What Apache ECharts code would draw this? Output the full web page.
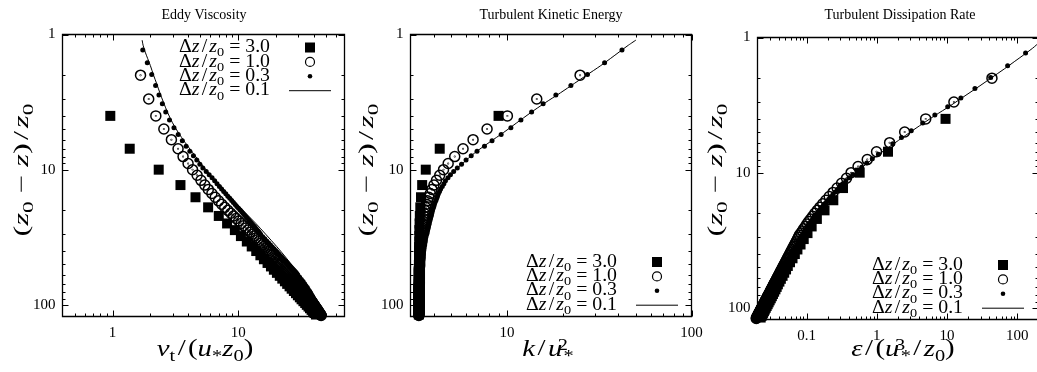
<!DOCTYPE html>
<html>
<head>
<meta charset="utf-8">
<title>Eddy viscosity, turbulent kinetic energy and dissipation profiles</title>
<script src="https://cdn.jsdelivr.net/npm/echarts@6.0.0/dist/echarts.min.js"></script>
<style>
html, body { margin: 0; padding: 0; background: #fff; }
#chart { width: 1037px; height: 372px; }
</style>
</head>
<body>
<div id="chart"></div>
<script>
// ---------------------------------------------------------------------------
// Normalised depth (z0 - z)/z0 of the plotted nodes for each vertical resolution
// ---------------------------------------------------------------------------
const depth30 = [4,7,10,13,16,19,22,25,28,31,34,37,40,43,46,49,52,55,58,61,64,67,70,73,76,79,82,85,88,91,94,97,100,103,106,109,112,115,118];
const depth10 = [2,3,4,5,6,7,8,9,10,11,12,13,14,15,16,17,18,19,20,21,22,23,24,25,26,27,28,29,30,
  31,32,33,34,35,36,37,38,39,40,41,42,43,44,45,46,47,48,49,50,51,52,53,54,55,56,57,58,59,60,
  61,62,63,64,65,66,67,68,69,70,71,72,73,74,75,76,77,78,79,80,81,82,83,84,85,86,87,88,89,90,
  91,92,93,94,95,96,97,98,99,100,101,102,103,104,105,106,107,108,109,110,111,112,113,114,115,116,117,118,119,120];
const depth03 = [1.3,1.62,1.98,2.38,2.8,3.25,3.75,4.3,4.9,
  5.5,6.1,6.7,7.3,7.9,8.5,9.1,9.7,10.3,10.9,11.5,12.1,12.7,13.3,13.9,14.5,15.1,15.7,16.3,16.9,17.5,
  18.1,18.7,19.3,19.9,20.5,21.1,21.7,22.3,22.9,23.5,24.1,24.7,25.3,25.9,26.5,27.1,27.7,28.3,28.9,29.5,30.1,
  31.3,32.5,33.7,34.9,36.1,37.3,38.5,39.7,40.9,42.1,43.3,44.5,45.7,46.9,48.1,49.3,50.5,51.7,52.9,54.1,55.3,56.5,57.7,58.9,60.1,
  62.5,64.9,67.3,69.7,72.1,74.5,76.9,79.3,81.7,84.1,86.5,88.9,91.3,93.7,96.1,98.5,100.9,103.3,105.7,108.1,110.5,112.9,115.3,117.7];
const depth01 = [1.1,1.2,1.35,1.5,1.7,2,2.3,2.7,3.2,3.8,4.5,5.3,6.3,7.5,9,11,13,16,20,25,30,37,45,55,67,80,95,110,120];

// Resolution labels (Δz/z0) in legend order
const resolutions = ['3.0', '1.0', '0.3', '0.1'];

// ---------------------------------------------------------------------------
// Eddy viscosity  nu_t/(u* z0)
// ---------------------------------------------------------------------------
const nuSquare = [0.96,1.37,2.33,3.47,4.57,5.76,7.0,8.15,9.4,10.5,11.7,12.8,13.9,15.0,16.0,17.1,18.2,19.2,20.3,21.4,22.4,23.5,24.5,25.6,26.6,27.7,28.8,29.8,30.9,31.9,33.0,34.1,35.1,36.2,37.2,38.3,39.4,40.4,41.5];
const nuCircle = [1.67,1.94,2.21,2.56,2.94,3.32,3.64,3.99,4.33,4.71,5.05,
  5.42,5.78,6.17,6.56,6.97,7.38,7.81,8.26,8.72,9.17,9.61,10.08,10.55,11.02,11.49,11.96,12.43,12.9,
  13.34,13.79,14.23,14.67,15.12,15.56,16.0,16.44,16.88,17.32,
  17.75,18.18,18.61,19.05,19.48,19.91,20.34,20.77,21.2,21.6,
  22.02,22.44,22.86,23.28,23.71,24.12,24.54,24.96,25.38,25.8,
  26.2,26.6,27.0,27.39,27.79,28.18,28.58,28.97,29.36,29.75,
  30.13,30.5,30.87,31.24,31.61,31.98,32.35,32.71,33.08,33.44,
  33.79,34.14,34.49,34.84,35.19,35.54,35.88,36.22,36.56,36.9,
  37.22,37.54,37.85,38.16,38.48,38.78,39.09,39.4,39.7,40.0,
  40.3,40.6,40.89,41.18,41.48,41.76,42.05,42.34,42.62,42.9,
  43.18,43.46,43.73,44.0,44.28,44.54,44.81,45.08,45.34,45.6];
const nuDot = [1.74,1.89,2.05,2.2,2.34,2.49,2.65,2.84,3.08,
  3.33,3.59,3.85,4.12,4.4,4.68,4.95,5.23,5.56,5.87,6.19,6.49,6.78,7.08,7.37,7.66,7.96,8.26,8.56,8.86,9.15,
  9.45,9.74,10.04,10.35,10.64,10.93,11.22,11.51,11.79,12.08,12.36,12.65,12.93,13.21,13.49,13.77,14.04,14.32,14.59,14.81,15.05,
  15.65,16.25,16.85,17.45,18.05,18.65,19.25,19.85,20.45,21.05,21.65,22.25,22.85,23.45,24.05,24.65,25.25,25.85,26.45,27.05,27.65,28.25,28.8,29.3,29.8,
  30.8,31.8,32.8,33.7,34.5,35.4,36.1,37.0,37.7,38.3,39.0,39.6,40.3,40.9,41.4,42.0,42.5,43.0,43.4,43.9,44.3,44.7,45.2,45.7];
const nuLine = [1.72,1.75,1.82,1.9,2.0,2.12,2.24,2.38,2.55,2.75,3.0,3.33,3.78,4.35,5.05,6.05,7.1,8.7,10.9,13.8,16.5,20.2,24.1,28.5,33.3,38,42.5,46,47.5];

// ---------------------------------------------------------------------------
// Turbulent kinetic energy  k/u*^2
// ---------------------------------------------------------------------------
const kSquare = [9.0,4.32,3.63,3.47,3.42,3.39,3.37,3.36,3.35,3.35,3.35,3.34,3.34,
  3.34,3.34,3.34,3.34,3.34,3.34,3.34,3.34,
  3.33,3.33,3.33,3.33,3.33,3.33,3.33,3.33,3.33,3.33,3.33,3.33,3.33,3.33,3.33,3.33,3.33,3.33];
const kCircle = [24.9,14.5,10.05,7.8,6.55,5.78,5.21,4.8,4.53,4.32,4.15,4.02,3.92,3.84,3.77,3.71,3.66,3.62,3.59,3.56,
  3.54,3.52,3.5,3.48,3.47,3.46,3.45,3.44,3.43,3.42,3.42,3.41,3.41,3.4,3.4,3.39,3.39,3.39,3.38,3.38,
  3.38,3.37,3.37,3.37,3.37,3.36,3.36,3.36,3.36,3.36,3.36,3.35,3.35,3.35,3.35,3.35,3.35,3.35,3.35,3.35,
  3.35,3.35,3.35,3.35,3.35,3.35,3.35,3.35,3.35,3.34,3.34,3.34,3.34,3.34,3.34,3.34,3.34,3.34,3.34,
  3.34,3.34,3.34,3.34,3.34,3.34,3.34,3.34,3.34,3.34,3.34,3.34,3.34,3.34,3.34,3.34,3.34,3.34,3.34,3.34,
  3.33,3.33,3.33,3.33,3.33,3.33,3.33,3.33,3.33,3.33,3.33,3.33,3.33,3.33,3.33,3.33,3.33,3.33,3.33,3.33];
const kDot = [42,33.8,27.3,22.2,18.4,15.7,13.6,11.9,10.5,
  9.3,8.3,7.55,6.88,6.4,6.0,5.67,5.38,5.14,4.94,4.79,4.64,4.55,4.46,4.37,4.31,4.25,4.2,4.16,4.12,4.07,
  4.04,4.01,3.98,3.95,3.93,3.91,3.89,3.87,3.85,3.83,3.81,3.79,3.78,3.76,3.75,3.73,3.72,3.7,3.69,3.68,3.67,
  3.64,3.62,3.61,3.59,3.58,3.56,3.55,3.54,3.52,3.51,3.5,3.5,3.49,3.48,3.47,3.47,3.46,3.46,3.45,3.45,3.45,3.44,3.44,3.44,3.43,
  3.43,3.42,3.42,3.41,3.41,3.4,3.4,3.4,3.39,3.39,3.39,3.38,3.38,3.38,3.38,3.37,3.37,3.37,3.37,3.36,3.36,3.36,3.36,3.36];
const kLine = [50,45.5,40.5,36.5,32.2,27,23.2,19.5,16.1,13.4,11.3,9.6,8.0,6.7,5.75,4.92,4.48,4.18,3.95,3.78,3.67,3.58,3.5,3.45,3.42,3.39,3.38,3.37,3.36];

// ---------------------------------------------------------------------------
// Turbulent dissipation rate  eps/(u*^3/z0)
// ---------------------------------------------------------------------------
const epsSquare = [9.5,1.44,0.57,0.33,0.24,0.18,0.14,0.118,0.103,0.091,0.082,0.074,0.068,0.063,0.058,0.054,0.051,0.048,0.0455,0.043,0.041,0.039,0.0375,0.036,0.0345,0.0332,0.032,0.0309,0.0298,0.0288,0.0279,0.027,0.0262,0.0254,0.0247,0.024,0.0234,0.0228,0.0222];
const epsCircle = [43.5,12.5,4.96,2.49,1.52,0.99,0.73,0.54,0.43,0.37,0.315,0.272,0.238,0.21,0.188,0.17,0.155,0.142,0.131,0.122,
  0.114,0.107,0.101,0.096,0.091,0.087,0.083,0.079,0.0767,
  0.0742,0.0719,0.0697,0.0676,0.0657,0.0639,0.0622,0.0605,0.059,0.0575,
  0.0561,0.0548,0.0535,0.0523,0.0511,0.05,0.0489,0.0479,0.0469,0.046,
  0.0451,0.0442,0.0434,0.0426,0.0418,0.0411,0.0404,0.0397,0.039,0.0383,
  0.0377,0.0371,0.0365,0.0359,0.0354,0.0348,0.0343,0.0338,0.0333,0.0329,
  0.0324,0.0319,0.0315,0.0311,0.0307,0.0303,0.0299,0.0295,0.0291,0.0288,
  0.0284,0.028,0.0277,0.0274,0.0271,0.0267,0.0264,0.0261,0.0258,0.0256,
  0.0253,0.025,0.0247,0.0245,0.0242,0.024,0.0237,0.0235,0.0232,0.023,
  0.0228,0.0225,0.0223,0.0221,0.0219,0.0217,0.0215,0.0213,0.0211,0.0209,
  0.0207,0.0205,0.0204,0.0202,0.02,0.0198,0.0197,0.0195,0.0193,0.0192];
const epsDot = [131,72.7,41.7,24.9,15.7,10.2,6.69,4.49,3.09,
  2.24,1.69,1.32,1.053,0.862,0.718,0.608,0.523,0.457,0.403,0.362,0.326,0.299,0.275,0.255,0.237,0.22,0.206,0.194,0.183,0.173,
  0.164,0.156,0.149,0.142,0.136,0.131,0.126,0.121,0.117,0.113,0.1096,0.106,0.103,0.1002,0.0976,0.0951,0.0927,0.0905,0.0884,0.0864,0.0845,
  0.0811,0.0779,0.0751,0.0726,0.0702,0.068,0.0659,0.0639,0.062,0.0603,0.0586,0.0569,0.0554,0.0539,0.0525,0.0512,0.0499,0.0487,0.0475,0.0465,0.0454,0.0444,0.0434,0.0426,0.0417,
  0.04,0.0385,0.037,0.0357,0.0345,0.0333,0.0323,0.0314,0.0304,0.0295,0.0287,0.0279,0.0271,0.0264,0.0257,0.0251,0.0245,0.0239,0.0233,0.0228,0.0223,0.0218,0.0213,0.0209];
const epsLine = [200,165,122,92,66,42,28.5,18,11.1,6.6,4.05,2.56,1.6,1.0,0.64,0.41,0.296,0.205,0.145,0.108,0.087,0.0706,0.058,0.0471,0.0384,0.032,0.0268,0.023,0.021];

// ---------------------------------------------------------------------------
// Axis ticks and tick labels
// ---------------------------------------------------------------------------
const depthTickLabels = ['1', '10', '100'];
const depthMajorTicks = [1, 10, 100];
const depthMinorTicks = [2,3,4,5,6,7,8,9,20,30,40,50,60,70,80,90];

const nuTickLabels = ['1', '10'];
const nuMajorTicks = [1, 10];
const nuMinorTicks = [0.5,0.6,0.7,0.8,0.9,2,3,4,5,6,7,8,9,20,30,40,50,60];

const kTickLabels = ['10', '100'];
const kMajorTicks = [10, 100];
const kMinorTicks = [4,5,6,7,8,9,20,30,40,50,60,70,80,90];

const epsTickLabels = ['0.1', '1', '10', '100'];
const epsMajorTicks = [0.1, 1, 10, 100];
const epsMinorTicks = [0.03,0.04,0.05,0.06,0.07,0.08,0.09,0.2,0.3,0.4,0.5,0.6,0.7,0.8,0.9,2,3,4,5,6,7,8,9,20,30,40,50,60,70,80,90];

// ---------------------------------------------------------------------------
// Text
// ---------------------------------------------------------------------------
const panelTitles = ['Eddy Viscosity', 'Turbulent Kinetic Energy', 'Turbulent Dissipation Rate'];
const xTitles = [
  '{i|ν}{s|t}{o|/}{r|(}{i|u}{s|*}{i|z}{s|0}{r|)}',
  '{i|k}{o|/}{i|u}{p|2}{s|*}',
  '{i|ε}{o|/}{r|(}{i|u}{p|3}{s|*}{o|/}{i|z}{s|0}{r|)}'
];
const yTitle = '{r|(}{i|z}{s|0}{r| − }{i|z}{r|)}{o|/}{i|z}{s|0}';

const SERIF = "'Liberation Serif', 'Times New Roman', serif";

// rich-text styles for math-like labels: main glyphs sit at the top of a
// taller line so subscripts (s) drop below and superscripts (p) rise above
function mathRich(size, slashPad) {
  const sub = Math.round(size * 0.7);
  const base = { fontFamily: SERIF, fill: '#000' };
  return {
    r: Object.assign({ fontSize: size, lineHeight: size, verticalAlign: 'top' }, base),
    i: Object.assign({ fontSize: size, lineHeight: size, verticalAlign: 'top', fontStyle: 'italic' }, base),
    o: Object.assign({ fontSize: size, lineHeight: size, verticalAlign: 'top', padding: [0, slashPad, 0, slashPad] }, base),
    s: Object.assign({ fontSize: sub, lineHeight: Math.round(size * 1.6) }, base),
    p: Object.assign({ fontSize: sub, lineHeight: Math.round(size * 0.5), verticalAlign: 'top', width: 1 }, base)
  };
}

function mathText(text, x, y, size, opts) {
  opts = opts || {};
  return {
    type: 'text', x: x, y: y, rotation: opts.rotation || 0, scaleX: opts.scaleX || 1, silent: true,
    style: {
      text: text, rich: mathRich(size, opts.slashPad || 1),
      x: 0, y: 0, fill: '#000',
      align: opts.align || 'center', textAlign: opts.align || 'center',
      verticalAlign: 'middle', textVerticalAlign: 'middle'
    }
  };
}

function labelFormatter(list) {
  return function (v) {
    const s = String(+(+v).toPrecision(6));
    return list.indexOf(s) >= 0 ? s : '';
  };
}

// open circle with the small centre dot of the plotting terminal
const CIRCLE_SYMBOL = 'path://M20 10A10 10 0 1 1 0 10A10 10 0 1 1 20 10Z M10.5 10A0.5 0.5 0 1 1 9.5 10A0.5 0.5 0 1 1 10.5 10Z';

// ---------------------------------------------------------------------------
// Panels
// ---------------------------------------------------------------------------
const panels = [
  { grid: { left: 62.5, top: 34.5, width: 282, height: 282 }, xRange: [0.4, 70],
    xLabels: nuTickLabels, xMajor: nuMajorTicks, xMinor: nuMinorTicks, xRef: 1,
    values: [nuSquare, nuCircle, nuDot, nuLine],
    legend: { textRight: 270, markerX: 310, row0: 47.5 },
    titleX: 204, xTitleX: 205, yTitleX: 23 },
  { grid: { left: 410.5, top: 34.5, width: 281, height: 282 }, xRange: [3, 100],
    xLabels: kTickLabels, xMajor: kMajorTicks, xMinor: kMinorTicks, xRef: 10,
    values: [kSquare, kCircle, kDot, kLine],
    legend: { textRight: 617, markerX: 657, row0: 262 },
    titleX: 551, xTitleX: 548, yTitleX: 368 },
  { grid: { left: 757.5, top: 37.5, width: 281, height: 282 }, xRange: [0.02, 200],
    xLabels: epsTickLabels, xMajor: epsMajorTicks, xMinor: epsMinorTicks, xRef: 1,
    values: [epsSquare, epsCircle, epsDot, epsLine],
    legend: { textRight: 963, markerX: 1003, row0: 265 },
    titleX: 900, xTitleX: 903, yTitleX: 717 }
];

const depthGrids = [depth30, depth10, depth03, depth01];

function pairs(xs, depths) { return depths.map(function (d, j) { return [xs[j], d]; }); }

// tick table: [x, y, axis (0 = x, 1 = y), major]
function tickTable(p) {
  const rows = [];
  p.xMajor.forEach(function (v) { rows.push([v, 10, 0, 1]); });
  p.xMinor.forEach(function (v) { rows.push([v, 10, 0, 0]); });
  depthMajorTicks.forEach(function (v) { rows.push([p.xRef, v, 1, 1]); });
  depthMinorTicks.forEach(function (v) { rows.push([p.xRef, v, 1, 0]); });
  return rows;
}

// inward ticks on both opposite edges of the frame
function renderTick(params, api) {
  const cs = params.coordSys;
  const pt = api.coord([api.value(0), api.value(1)]);
  const len = api.value(3) ? 6 : 3;
  const st = { stroke: '#000', lineWidth: 1 };
  if (api.value(2) === 0) {
    const x = Math.round(pt[0]) + 0.5;
    const yb = cs.y + cs.height, yt = cs.y;
    return { type: 'group', children: [
      { type: 'line', shape: { x1: x, y1: yb, x2: x, y2: yb - len }, style: st },
      { type: 'line', shape: { x1: x, y1: yt, x2: x, y2: yt + len }, style: st }
    ] };
  }
  const y = Math.round(pt[1]) + 0.5;
  const xl = cs.x, xr = cs.x + cs.width;
  return { type: 'group', children: [
    { type: 'line', shape: { x1: xl, y1: y, x2: xl + len, y2: y }, style: st },
    { type: 'line', shape: { x1: xr, y1: y, x2: xr - len, y2: y }, style: st }
  ] };
}

const series = [];
panels.forEach(function (p, i) {
  const common = { xAxisIndex: i, yAxisIndex: i, silent: true, clip: false };
  series.push(Object.assign({ type: 'scatter', name: 'dz3', symbol: 'rect', symbolSize: 10,
    itemStyle: { color: '#000', opacity: 1 }, data: pairs(p.values[0], depthGrids[0]) }, common));
  series.push(Object.assign({ type: 'scatter', name: 'dz1', symbol: CIRCLE_SYMBOL, symbolSize: 10,
    itemStyle: { color: 'rgba(0,0,0,0)', borderColor: '#000', borderWidth: 1.5, opacity: 1 },
    data: pairs(p.values[1], depthGrids[1]) }, common));
  series.push(Object.assign({ type: 'scatter', name: 'dz03', symbol: 'circle', symbolSize: 5,
    itemStyle: { color: '#000', opacity: 1 }, data: pairs(p.values[2], depthGrids[2]) }, common));
  series.push({ type: 'line', name: 'dz01', xAxisIndex: i, yAxisIndex: i, silent: true,
    showSymbol: false, symbol: 'none', smooth: 0.3, lineStyle: { color: '#000', width: 1 },
    data: pairs(p.values[3], depthGrids[3]) });
  series.push({ type: 'custom', xAxisIndex: i, yAxisIndex: i, silent: true, z: 5,
    renderItem: renderTick, data: tickTable(p) });
});

// ---------------------------------------------------------------------------
// Titles, axis names and legends
// ---------------------------------------------------------------------------
const graphic = [];
const ROW = 14.4;
const LEG = 18;
const XT = 24;
const YT = 21;
panels.forEach(function (p, i) {
  graphic.push({ type: 'text', x: p.titleX, y: 15, silent: true,
    style: { text: panelTitles[i], x: 0, y: 0, fill: '#000', fontFamily: SERIF, fontSize: 14,
      align: 'center', textAlign: 'center', verticalAlign: 'middle', textVerticalAlign: 'middle' } });
  graphic.push(mathText(xTitles[i], p.xTitleX, 349 + 0.3 * XT, XT, { scaleX: 1.2, slashPad: 2 }));
  graphic.push(mathText(yTitle, p.yTitleX + 0.3 * YT, 170, YT, { rotation: Math.PI / 2, scaleX: 1.55, slashPad: 2 }));

  const L = p.legend;
  resolutions.forEach(function (r, j) {
    const label = '{r|Δ}{i|z}{o|/}{i|z}{s|0}{r| = ' + r + '}';
    graphic.push(mathText(label, L.textRight, L.row0 + j * ROW + 0.3 * LEG, LEG, { align: 'right', scaleX: 1.1, slashPad: 2 }));
  });
  graphic.push({ type: 'rect', silent: true, shape: { x: L.markerX - 5, y: L.row0 - 5, width: 10, height: 10 }, style: { fill: '#000' } });
  graphic.push({ type: 'circle', silent: true, shape: { cx: L.markerX, cy: L.row0 + ROW, r: 4.5 }, style: { fill: '#fff', stroke: '#000', lineWidth: 1.2 } });
  graphic.push({ type: 'circle', silent: true, shape: { cx: L.markerX, cy: L.row0 + 2 * ROW, r: 2.3 }, style: { fill: '#000' } });
  graphic.push({ type: 'line', silent: true, shape: { x1: L.markerX - 21, y1: L.row0 + 3 * ROW, x2: L.markerX + 21, y2: L.row0 + 3 * ROW }, style: { stroke: '#000', lineWidth: 1 } });
});

const labelStyle = { fontFamily: SERIF, fontSize: 15, color: '#000' };

const option = {
  animation: false,
  backgroundColor: '#fff',
  grid: panels.map(function (p) {
    return Object.assign({ show: true, borderColor: '#000', borderWidth: 1.3, backgroundColor: 'transparent',
      containLabel: false, outerBoundsMode: 'none' }, p.grid);
  }),
  xAxis: panels.map(function (p, i) {
    return { gridIndex: i, type: 'log', logBase: 10, min: p.xRange[0], max: p.xRange[1],
      axisLine: { show: false }, axisTick: { show: false }, splitLine: { show: false }, minorTick: { show: false },
      axisLabel: Object.assign({ formatter: labelFormatter(p.xLabels), margin: 9, hideOverlap: false }, labelStyle) };
  }),
  yAxis: panels.map(function (p, i) {
    return { gridIndex: i, type: 'log', logBase: 10, inverse: true, min: 1, max: 122,
      axisLine: { show: false }, axisTick: { show: false }, splitLine: { show: false }, minorTick: { show: false },
      axisLabel: Object.assign({ formatter: labelFormatter(depthTickLabels), margin: 7, hideOverlap: false }, labelStyle) };
  }),
  series: series,
  graphic: graphic
};

const chart = echarts.init(document.getElementById('chart'), null, { renderer: 'canvas', width: 1037, height: 372 });
chart.setOption(option);
</script>
</body>
</html>
